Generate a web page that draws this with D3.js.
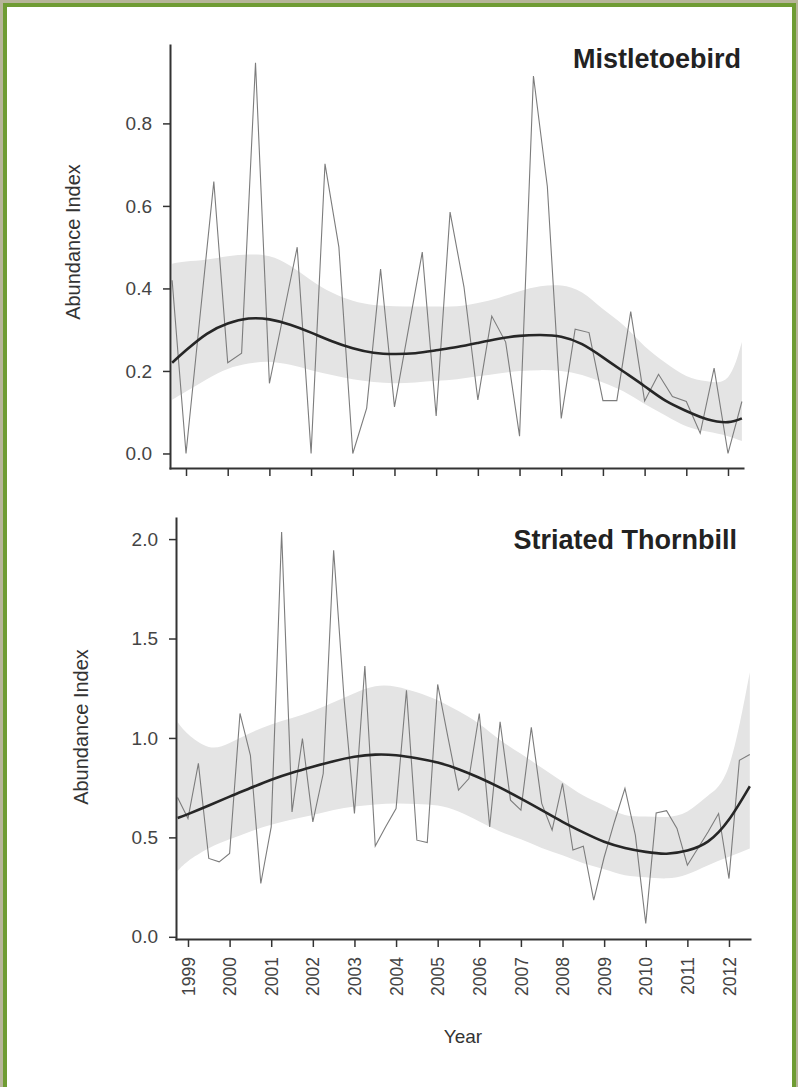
<!DOCTYPE html>
<meta charset="utf-8">
<style>
body { margin: 0; }
text { font-family: "Liberation Sans", Arial, sans-serif; fill: #333; }
.axis path, .axis line { stroke: #333; }
.axis path { stroke-width: 2px; }
.axis line { stroke-width: 1.5px; }
.axis text { font-size: 19px; fill: #444; }
.title { font-weight: bold; font-size: 27px; fill: #222; }
.lab { font-size: 20px; fill: #333; }
</style>
<svg width="798" height="1087"></svg>
<script src="https://d3js.org/d3.v7.min.js"></script>
<script>

// Mistletoebird: one survey every 4 months, first at 1998.667
var mistleStart = 1998.667, mistleStep = 1 / 3;
var mistleValues = [0.42, 0.0, 0.33, 0.659, 0.22, 0.243, 0.947, 0.170, 0.335, 0.50,
  0.0, 0.702, 0.50, 0.0, 0.11, 0.447, 0.113, 0.30, 0.488, 0.091,
  0.585, 0.404, 0.13, 0.333, 0.27, 0.042, 0.915, 0.647, 0.085, 0.301,
  0.293, 0.128, 0.128, 0.344, 0.127, 0.192, 0.138, 0.126, 0.049, 0.207,
  0.0, 0.126];

var mistleFitYears = [1998.667, 1999, 1999.5, 2000, 2000.5, 2001, 2001.5, 2002, 2002.5, 2003,
  2003.5, 2004, 2004.5, 2005, 2005.5, 2006, 2006.5, 2007, 2007.5, 2008,
  2008.5, 2009, 2009.5, 2010, 2010.5, 2011, 2011.5, 2012, 2012.333];
var mistleFit = [0.22, 0.25, 0.29, 0.315, 0.327, 0.325, 0.312, 0.293, 0.272, 0.255,
  0.244, 0.241, 0.243, 0.25, 0.258, 0.268, 0.278, 0.285, 0.287, 0.283,
  0.265, 0.233, 0.198, 0.163, 0.128, 0.103, 0.083, 0.076, 0.085];
var mistleUpper = [0.46, 0.465, 0.47, 0.478, 0.482, 0.478, 0.455, 0.42, 0.39, 0.37,
  0.36, 0.357, 0.356, 0.356, 0.357, 0.365, 0.377, 0.393, 0.405, 0.407,
  0.39, 0.35, 0.31, 0.26, 0.22, 0.188, 0.175, 0.185, 0.27];
var mistleLower = [0.13, 0.15, 0.18, 0.205, 0.218, 0.222, 0.215, 0.202, 0.19, 0.18,
  0.173, 0.17, 0.172, 0.176, 0.18, 0.187, 0.194, 0.2, 0.202, 0.2,
  0.19, 0.172, 0.15, 0.12, 0.092, 0.066, 0.053, 0.042, 0.03];

// Striated Thornbill: quarterly, first at 1998.75
var thornStart = 1998.75, thornStep = 0.25;
var thornValues = [0.70, 0.595, 0.872, 0.394, 0.377, 0.419, 1.123, 0.913, 0.268, 0.553,
  2.036, 0.628, 0.997, 0.578, 0.821, 1.944, 1.2, 0.62, 1.362, 0.456,
  0.553, 0.645, 1.24, 0.486, 0.474, 1.269, 1.0, 0.738, 0.796, 1.123,
  0.553, 1.081, 0.687, 0.637, 1.053, 0.671, 0.536, 0.771, 0.436, 0.456,
  0.185, 0.40, 0.58, 0.746, 0.511, 0.067, 0.623, 0.634, 0.545, 0.36,
  0.444, 0.528, 0.62, 0.293, 0.888, 0.917];

var thornFitYears = [1998.75, 1999, 1999.5, 2000, 2000.5, 2001, 2001.5, 2002, 2002.5, 2003,
  2003.5, 2004, 2004.5, 2005, 2005.5, 2006, 2006.5, 2007, 2007.5, 2008,
  2008.5, 2009, 2009.5, 2010, 2010.5, 2011, 2011.5, 2012, 2012.5];
var thornFit = [0.597, 0.617, 0.66, 0.705, 0.748, 0.79, 0.825, 0.855, 0.883, 0.905,
  0.916, 0.913, 0.898, 0.876, 0.843, 0.8, 0.75, 0.695, 0.637, 0.578,
  0.525, 0.478, 0.447, 0.427, 0.418, 0.434, 0.48, 0.59, 0.757];
var thornUpper = [1.08, 1.02, 0.955, 0.975, 1.025, 1.068, 1.1, 1.135, 1.18, 1.225,
  1.26, 1.258, 1.23, 1.19, 1.135, 1.07, 0.99, 0.92, 0.85, 0.78,
  0.71, 0.66, 0.612, 0.605, 0.603, 0.63, 0.71, 0.86, 1.33];
var thornLower = [0.33, 0.38, 0.445, 0.49, 0.53, 0.564, 0.59, 0.612, 0.638, 0.655,
  0.665, 0.67, 0.668, 0.66, 0.63, 0.58, 0.53, 0.49, 0.447, 0.41,
  0.37, 0.34, 0.31, 0.30, 0.294, 0.315, 0.36, 0.402, 0.444];

var yearTicks = [1999, 2000, 2001, 2002, 2003, 2004, 2005, 2006, 2007, 2008, 2009, 2010, 2011, 2012];
var mistleTicks = [0.0, 0.2, 0.4, 0.6, 0.8];
var thornTicks = [0.0, 0.5, 1.0, 1.5, 2.0];

var svg = d3.select("svg");

// page frame
svg.append("rect").attr("width", 798).attr("height", 1087).attr("fill", "#b7b599");
svg.append("rect")
  .attr("x", 5).attr("y", 5).attr("width", 789).attr("height", 1100)
  .attr("fill", "#fff").attr("stroke", "#6f9c33").attr("stroke-width", 4);

function panel(cfg) {
  var x = d3.scaleLinear().domain(cfg.xDomain).range([cfg.left, cfg.right]);
  var y = d3.scaleLinear().domain(cfg.yDomain).range([cfg.bottom, cfg.top]);
  var g = svg.append("g");

  var band = cfg.fitYears.map(function(t, i) {
    return { t: t, fit: cfg.fit[i], lo: cfg.lower[i], hi: cfg.upper[i] };
  });
  var pts = cfg.values.map(function(v, i) {
    return { t: cfg.start + i * cfg.step, v: v };
  });

  g.append("path")
    .datum(band)
    .attr("fill", "#e4e4e4")
    .attr("d", d3.area()
      .curve(d3.curveNatural)
      .x(function(d) { return x(d.t); })
      .y0(function(d) { return y(d.lo); })
      .y1(function(d) { return y(d.hi); }));

  g.append("path")
    .datum(pts)
    .attr("fill", "none")
    .attr("stroke", "#7c7c7c")
    .attr("stroke-width", 1.1)
    .attr("d", d3.line()
      .x(function(d) { return x(d.t); })
      .y(function(d) { return y(d.v); }));

  g.append("path")
    .datum(band)
    .attr("fill", "none")
    .attr("stroke", "#262626")
    .attr("stroke-width", 2.6)
    .attr("d", d3.line()
      .curve(d3.curveNatural)
      .x(function(d) { return x(d.t); })
      .y(function(d) { return y(d.fit); }));

  g.append("g")
    .attr("class", "axis")
    .attr("transform", "translate(" + cfg.left + ",0)")
    .call(d3.axisLeft(y).tickValues(cfg.yTicks).tickFormat(d3.format(".1f"))
      .tickSize(7).tickSizeOuter(0).tickPadding(11));

  var xa = g.append("g")
    .attr("class", "axis")
    .attr("transform", "translate(0," + cfg.bottom + ")")
    .call(d3.axisBottom(x).tickValues(yearTicks)
      .tickFormat(cfg.yearLabels ? d3.format("d") : "")
      .tickSize(8).tickSizeOuter(0));
  xa.selectAll(".tick text")
    .attr("transform", "rotate(-90)")
    .attr("text-anchor", "end")
    .attr("x", -18).attr("y", 0).attr("dy", "0.35em")
    .style("font-size", "17.5px");

  g.selectAll(".domain").attr("stroke-linecap", "square");

  g.append("text")
    .attr("class", "title")
    .attr("text-anchor", "end")
    .attr("x", cfg.titleX).attr("y", cfg.titleY)
    .text(cfg.title);

  g.append("text")
    .attr("class", "lab")
    .attr("text-anchor", "middle")
    .attr("transform", "translate(" + cfg.labX + "," + cfg.labY + ") rotate(-90)")
    .text("Abundance Index");

  return x;
}

panel({
  title: "Mistletoebird", titleX: 741, titleY: 68,
  start: mistleStart, step: mistleStep, values: mistleValues,
  fitYears: mistleFitYears, fit: mistleFit, upper: mistleUpper, lower: mistleLower,
  xDomain: [1998.616, 2012.36], yDomain: [-0.0352, 0.99], yTicks: mistleTicks,
  left: 170, right: 743, top: 45, bottom: 468,
  labX: 80, labY: 242, yearLabels: false
});

panel({
  title: "Striated Thornbill", titleX: 737, titleY: 549,
  start: thornStart, step: thornStep, values: thornValues,
  fitYears: thornFitYears, fit: thornFit, upper: thornUpper, lower: thornLower,
  xDomain: [1998.712, 2012.505], yDomain: [-0.011, 2.106], yTicks: thornTicks,
  left: 176, right: 750, top: 518, bottom: 939,
  labX: 88, labY: 727, yearLabels: true
});

svg.append("text")
  .attr("class", "lab")
  .attr("text-anchor", "middle")
  .attr("x", 463).attr("y", 1043)
  .style("font-size", "19px")
  .text("Year");

</script>
